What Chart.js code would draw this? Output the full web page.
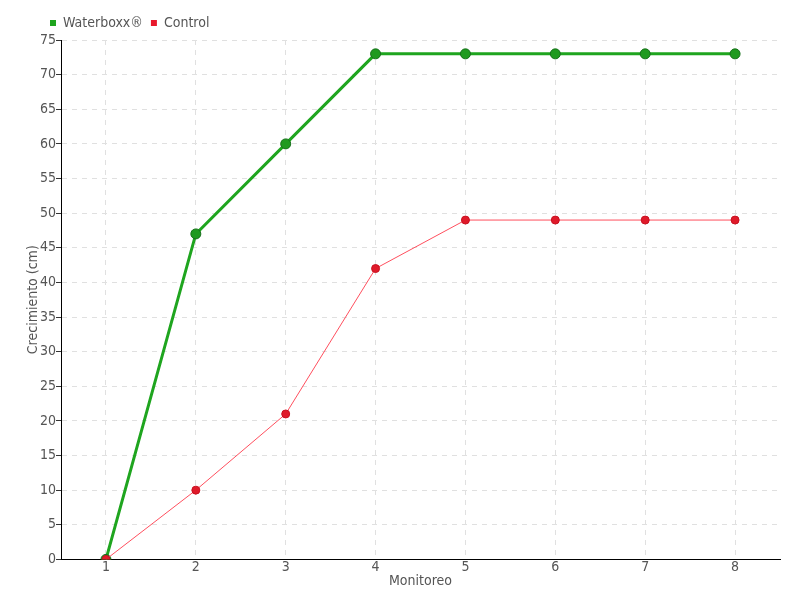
<!DOCTYPE html>
<html>
<head>
<meta charset="utf-8">
<script src="https://cdn.jsdelivr.net/npm/chart.js@4"></script>
<style>
    html, body { margin: 0; padding: 0; background: #fff; }
    #wrap { width: 800px; height: 600px; }
</style>
</head>
<body>
<div id="wrap"><canvas id="chart_0"></canvas></div>
<script>
// Chart data
const monitoreo = ['1', '2', '3', '4', '5', '6', '7', '8'];
const waterboxx = [0, 47, 60, 73, 73, 73, 73, 73];
const control = [0, 10, 21, 42, 49, 49, 49, 49];

const FONT = "'DejaVu Sans Condensed', 'Liberation Sans Narrow', sans-serif";

function createChart0() {
    const ctx = document.getElementById('chart_0');

    new Chart(ctx.getContext('2d'), {
        type: 'line',
        data: {
            labels: monitoreo,
            datasets: [
                {
                    label: 'Waterboxx®',
                    data: waterboxx,
                    borderColor: '#1fa51f',
                    backgroundColor: '#1fa51f',
                    pointBackgroundColor: '#1f9a1f',
                    pointBorderColor: '#16701a',
                    pointBorderWidth: 1,
                    borderWidth: 3,
                    pointRadius: 5,
                    tension: 0,
                    order: 1
                },
                {
                    label: 'Control',
                    data: control,
                    borderColor: '#ff4f5e',
                    backgroundColor: '#e8192c',
                    pointBackgroundColor: '#e01a2a',
                    pointBorderColor: '#c81020',
                    pointBorderWidth: 1,
                    borderWidth: 1,
                    pointRadius: 4,
                    tension: 0,
                    order: 0
                }
            ]
        },
        options: {
            responsive: true,
            maintainAspectRatio: false,
            animation: false,
            layout: { padding: { left: 26, right: 20, top: 8, bottom: 10 } },
            plugins: {
                legend: {
                    position: 'top',
                    align: 'start',
                    labels: {
                        boxWidth: 6,
                        boxHeight: 6,
                        padding: 8,
                        color: '#555',
                        font: { family: FONT, size: 14 },
                        generateLabels: (chart) => chart.data.datasets.map((ds, i) => ({
                            text: ds.label,
                            fillStyle: ds.backgroundColor,
                            strokeStyle: ds.backgroundColor,
                            lineWidth: 0,
                            fontColor: '#555',
                            datasetIndex: i
                        }))
                    }
                },
                tooltip: { enabled: false }
            },
            scales: {
                x: {
                    offset: true,
                    grid: {
                        offset: false,
                        color: '#e0e0e0',
                        drawTicks: false
                    },
                    border: { display: true, color: '#000', width: 1, dash: [5, 5] },
                    ticks: { color: '#555', font: { family: FONT, size: 14 }, padding: 0 },
                    title: { display: true, text: 'Monitoreo', color: '#555', font: { family: FONT, size: 14 }, padding: { top: -3, bottom: 0 } }
                },
                y: {
                    min: 0,
                    max: 75,
                    ticks: { stepSize: 5, color: '#555', font: { family: FONT, size: 14 }, padding: 0 },
                    grid: {
                        color: '#e0e0e0',
                        tickColor: '#333',
                        tickLength: 5
                    },
                    border: { display: true, color: '#000', width: 1, dash: [5, 5] },
                    title: { display: true, text: 'Crecimiento (cm)', color: '#555', font: { family: FONT, size: 14, lineHeight: 1 }, padding: 0 }
                }
            }
        },
        plugins: [{
            // push the legend a little to the right, next to the y axis
            id: 'legendShift',
            afterLayout(chart) {
                chart.legend.left += 16;
            }
        }]
    });
}

document.addEventListener('DOMContentLoaded', createChart0);
</script>
</body>
</html>
